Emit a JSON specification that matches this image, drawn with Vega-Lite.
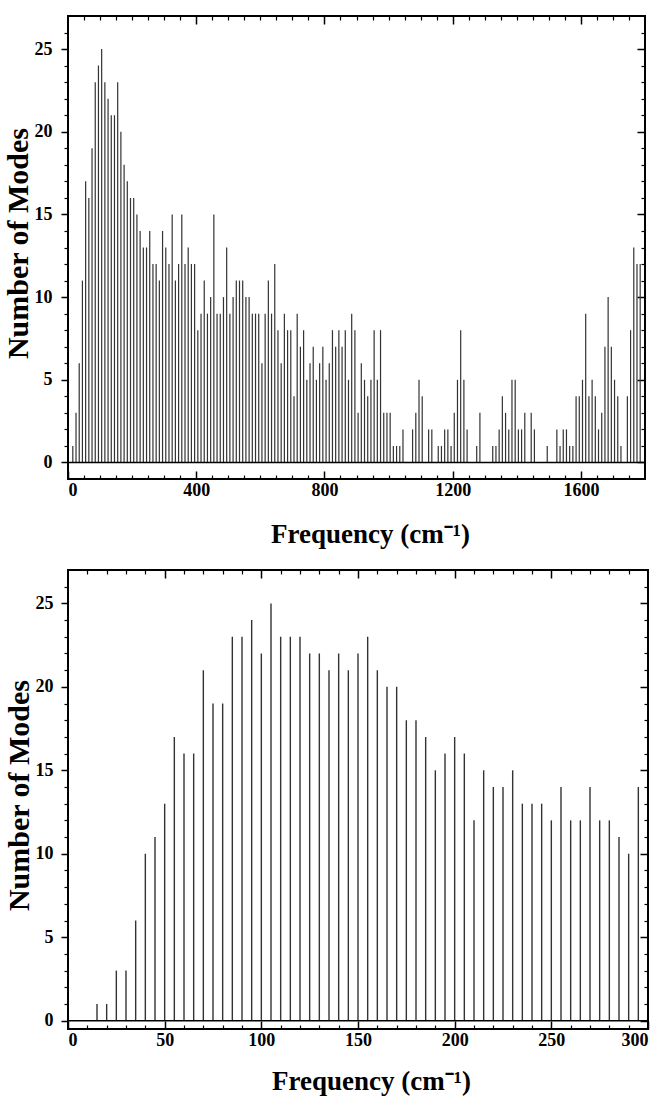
{
  "$schema": "https://vega.github.io/schema/vega-lite/v6.json",
  "padding": {"left": 2, "top": 14, "right": 2, "bottom": 2},
  "spacing": 20,
  "config": {
    "view": {"stroke": "#000", "strokeWidth": 2},
    "font": "Liberation Serif",
    "axis": {"labelFont": "Liberation Serif", "labelFontWeight": "bold", "labelFontSize": 18, "labelColor": "#000", "titleFont": "Liberation Serif", "titleFontWeight": "bold", "titleColor": "#000", "tickColor": "#000", "domain": false, "grid": false}
  },
  "datasets": {
    "full": [
      {"freq": 15, "n": 1}, {"freq": 25, "n": 3}, {"freq": 35, "n": 6}, {"freq": 45, "n": 11}, {"freq": 55, "n": 17}, {"freq": 65, "n": 16}, {"freq": 75, "n": 19}, {"freq": 85, "n": 23}, {"freq": 95, "n": 24}, {"freq": 105, "n": 25},
      {"freq": 115, "n": 23}, {"freq": 125, "n": 22}, {"freq": 135, "n": 21}, {"freq": 145, "n": 21}, {"freq": 155, "n": 23}, {"freq": 165, "n": 20}, {"freq": 175, "n": 18}, {"freq": 185, "n": 17}, {"freq": 195, "n": 16}, {"freq": 205, "n": 16},
      {"freq": 215, "n": 15}, {"freq": 225, "n": 14}, {"freq": 235, "n": 13}, {"freq": 245, "n": 13}, {"freq": 255, "n": 14}, {"freq": 265, "n": 12}, {"freq": 275, "n": 12}, {"freq": 285, "n": 11}, {"freq": 295, "n": 14}, {"freq": 305, "n": 13},
      {"freq": 315, "n": 12}, {"freq": 325, "n": 15}, {"freq": 335, "n": 11}, {"freq": 345, "n": 12}, {"freq": 355, "n": 15}, {"freq": 365, "n": 12}, {"freq": 375, "n": 13}, {"freq": 385, "n": 12}, {"freq": 395, "n": 12}, {"freq": 405, "n": 8},
      {"freq": 415, "n": 9}, {"freq": 425, "n": 11}, {"freq": 435, "n": 9}, {"freq": 445, "n": 10}, {"freq": 455, "n": 15}, {"freq": 465, "n": 9}, {"freq": 475, "n": 9}, {"freq": 485, "n": 10}, {"freq": 495, "n": 13}, {"freq": 505, "n": 9},
      {"freq": 515, "n": 10}, {"freq": 525, "n": 11}, {"freq": 535, "n": 11}, {"freq": 545, "n": 11}, {"freq": 555, "n": 10}, {"freq": 565, "n": 10}, {"freq": 575, "n": 9}, {"freq": 585, "n": 9}, {"freq": 595, "n": 9}, {"freq": 605, "n": 6},
      {"freq": 615, "n": 9}, {"freq": 625, "n": 11}, {"freq": 635, "n": 9}, {"freq": 645, "n": 12}, {"freq": 655, "n": 8}, {"freq": 665, "n": 6}, {"freq": 675, "n": 9}, {"freq": 685, "n": 8}, {"freq": 695, "n": 8}, {"freq": 705, "n": 4},
      {"freq": 715, "n": 9}, {"freq": 725, "n": 7}, {"freq": 735, "n": 8}, {"freq": 745, "n": 5}, {"freq": 755, "n": 6}, {"freq": 765, "n": 7}, {"freq": 775, "n": 5}, {"freq": 785, "n": 6}, {"freq": 795, "n": 7}, {"freq": 805, "n": 5},
      {"freq": 815, "n": 6}, {"freq": 825, "n": 8}, {"freq": 835, "n": 7}, {"freq": 845, "n": 8}, {"freq": 855, "n": 7}, {"freq": 865, "n": 8}, {"freq": 875, "n": 5}, {"freq": 885, "n": 9}, {"freq": 895, "n": 8}, {"freq": 905, "n": 3},
      {"freq": 915, "n": 6}, {"freq": 925, "n": 5}, {"freq": 935, "n": 4}, {"freq": 945, "n": 5}, {"freq": 955, "n": 8}, {"freq": 965, "n": 5}, {"freq": 975, "n": 8}, {"freq": 985, "n": 3}, {"freq": 995, "n": 3}, {"freq": 1005, "n": 3},
      {"freq": 1015, "n": 1}, {"freq": 1025, "n": 1}, {"freq": 1035, "n": 1}, {"freq": 1045, "n": 2}, {"freq": 1075, "n": 2}, {"freq": 1085, "n": 3}, {"freq": 1095, "n": 5}, {"freq": 1105, "n": 4}, {"freq": 1125, "n": 2}, {"freq": 1135, "n": 2},
      {"freq": 1155, "n": 1}, {"freq": 1165, "n": 1}, {"freq": 1175, "n": 2}, {"freq": 1185, "n": 2}, {"freq": 1195, "n": 1}, {"freq": 1205, "n": 3}, {"freq": 1215, "n": 5}, {"freq": 1225, "n": 8}, {"freq": 1235, "n": 5}, {"freq": 1245, "n": 2},
      {"freq": 1275, "n": 1}, {"freq": 1285, "n": 3}, {"freq": 1325, "n": 1}, {"freq": 1335, "n": 1}, {"freq": 1345, "n": 2}, {"freq": 1355, "n": 4}, {"freq": 1365, "n": 3}, {"freq": 1375, "n": 2}, {"freq": 1385, "n": 5}, {"freq": 1395, "n": 5},
      {"freq": 1405, "n": 2}, {"freq": 1415, "n": 2}, {"freq": 1425, "n": 3}, {"freq": 1445, "n": 3}, {"freq": 1455, "n": 2}, {"freq": 1495, "n": 1}, {"freq": 1525, "n": 2}, {"freq": 1535, "n": 1}, {"freq": 1545, "n": 2}, {"freq": 1555, "n": 2},
      {"freq": 1565, "n": 1}, {"freq": 1575, "n": 1}, {"freq": 1585, "n": 4}, {"freq": 1595, "n": 4}, {"freq": 1605, "n": 5}, {"freq": 1615, "n": 9}, {"freq": 1625, "n": 4}, {"freq": 1635, "n": 5}, {"freq": 1645, "n": 4}, {"freq": 1655, "n": 2},
      {"freq": 1665, "n": 3}, {"freq": 1675, "n": 7}, {"freq": 1685, "n": 10}, {"freq": 1695, "n": 7}, {"freq": 1705, "n": 5}, {"freq": 1715, "n": 4}, {"freq": 1725, "n": 1}, {"freq": 1745, "n": 4}, {"freq": 1755, "n": 8}, {"freq": 1765, "n": 13},
      {"freq": 1775, "n": 12}, {"freq": 1785, "n": 12}
    ],
    "low": [
      {"freq": 15, "n": 1}, {"freq": 20, "n": 1}, {"freq": 25, "n": 3}, {"freq": 30, "n": 3}, {"freq": 35, "n": 6}, {"freq": 40, "n": 10}, {"freq": 45, "n": 11}, {"freq": 50, "n": 13}, {"freq": 55, "n": 17}, {"freq": 60, "n": 16},
      {"freq": 65, "n": 16}, {"freq": 70, "n": 21}, {"freq": 75, "n": 19}, {"freq": 80, "n": 19}, {"freq": 85, "n": 23}, {"freq": 90, "n": 23}, {"freq": 95, "n": 24}, {"freq": 100, "n": 22}, {"freq": 105, "n": 25}, {"freq": 110, "n": 23},
      {"freq": 115, "n": 23}, {"freq": 120, "n": 23}, {"freq": 125, "n": 22}, {"freq": 130, "n": 22}, {"freq": 135, "n": 21}, {"freq": 140, "n": 22}, {"freq": 145, "n": 21}, {"freq": 150, "n": 22}, {"freq": 155, "n": 23}, {"freq": 160, "n": 21},
      {"freq": 165, "n": 20}, {"freq": 170, "n": 20}, {"freq": 175, "n": 18}, {"freq": 180, "n": 18}, {"freq": 185, "n": 17}, {"freq": 190, "n": 15}, {"freq": 195, "n": 16}, {"freq": 200, "n": 17}, {"freq": 205, "n": 16}, {"freq": 210, "n": 12},
      {"freq": 215, "n": 15}, {"freq": 220, "n": 14}, {"freq": 225, "n": 14}, {"freq": 230, "n": 15}, {"freq": 235, "n": 13}, {"freq": 240, "n": 13}, {"freq": 245, "n": 13}, {"freq": 250, "n": 12}, {"freq": 255, "n": 14}, {"freq": 260, "n": 12},
      {"freq": 265, "n": 12}, {"freq": 270, "n": 14}, {"freq": 275, "n": 12}, {"freq": 280, "n": 12}, {"freq": 285, "n": 11}, {"freq": 290, "n": 10}, {"freq": 295, "n": 14}
    ]
  },
  "vconcat": [
    {
      "width": 577,
      "height": 463,
      "layer": [
        {
          "data": {"name": "full"},
          "mark": {"type": "rule", "stroke": "#333", "strokeWidth": 1.2},
          "encoding": {
            "x": {"field": "freq", "type": "quantitative", "scale": {"domain": [0, 1800], "nice": false, "zero": false},
              "axis": {"orient": "bottom", "values": [0, 400, 800, 1200, 1600], "format": "d", "tickSize": -8, "tickWidth": 1.5, "labelPadding": 10, "labelFlush": true,
                "title": "Frequency (cm⁻¹)", "titleFontSize": 27, "titleX": 302, "titleY": 63, "titleAlign": "center", "titleBaseline": "alphabetic"}},
            "y": {"field": "n", "type": "quantitative", "scale": {"domain": [-1, 27], "nice": false, "zero": false},
              "axis": {"orient": "left", "values": [0, 5, 10, 15, 20, 25], "tickSize": 7, "tickWidth": 1.5, "labelPadding": 9,
                "title": "Number of Modes", "titleFontSize": 30, "titleX": -41, "titleY": 227, "titleAngle": 270, "titleAlign": "center", "titleBaseline": "alphabetic"}},
            "y2": {"datum": 0}
          }
        },
        {
          "data": {"name": "full"},
          "mark": {"type": "rule", "opacity": 0},
          "encoding": {
            "x": {"field": "freq", "type": "quantitative", "axis": {"orient": "bottom", "values": [50, 100, 150, 200, 250, 300, 350, 450, 500, 550, 600, 650, 700, 750, 850, 900, 950, 1000, 1050, 1100, 1150, 1250, 1300, 1350, 1400, 1450, 1500, 1550, 1650, 1700, 1750], "tickSize": -4, "tickWidth": 1.2, "labels": false, "title": null}},
            "y": {"field": "n", "type": "quantitative", "axis": {"orient": "left", "values": [1, 2, 3, 4, 6, 7, 8, 9, 11, 12, 13, 14, 16, 17, 18, 19, 21, 22, 23, 24, 26], "tickSize": 4, "tickWidth": 1.2, "labels": false, "title": null}}
          }
        },
        {
          "data": {"name": "full"},
          "mark": {"type": "rule", "opacity": 0},
          "encoding": {
            "x": {"field": "freq", "type": "quantitative", "axis": {"orient": "top", "values": [400, 800, 1200, 1600], "tickSize": -8, "tickWidth": 1.5, "labels": false, "title": null}},
            "y": {"field": "n", "type": "quantitative", "axis": {"orient": "right", "values": [0, 5, 10, 15, 20, 25], "tickSize": -8, "tickWidth": 1.5, "labels": false, "title": null}}
          }
        },
        {
          "data": {"name": "full"},
          "mark": {"type": "rule", "opacity": 0},
          "encoding": {
            "x": {"field": "freq", "type": "quantitative", "axis": {"orient": "top", "values": [50, 100, 150, 200, 250, 300, 350, 450, 500, 550, 600, 650, 700, 750, 850, 900, 950, 1000, 1050, 1100, 1150, 1250, 1300, 1350, 1400, 1450, 1500, 1550, 1650, 1700, 1750], "tickSize": -4, "tickWidth": 1.2, "labels": false, "title": null}},
            "y": {"field": "n", "type": "quantitative", "axis": {"orient": "right", "values": [1, 2, 3, 4, 6, 7, 8, 9, 11, 12, 13, 14, 16, 17, 18, 19, 21, 22, 23, 24, 26], "tickSize": -4, "tickWidth": 1.2, "labels": false, "title": null}}
          }
        },
        {
          "data": {"values": [{}]},
          "mark": {"type": "rule", "stroke": "#000", "strokeWidth": 1.5},
          "encoding": {"y": {"datum": 0, "axis": null}}
        }
      ],
      "resolve": {"axis": {"x": "independent", "y": "independent"}}
    },
    {
      "width": 580,
      "height": 459,
      "layer": [
        {
          "data": {"name": "low"},
          "mark": {"type": "rule", "stroke": "#333", "strokeWidth": 1.4},
          "encoding": {
            "x": {"field": "freq", "type": "quantitative", "scale": {"domain": [0, 300], "nice": false, "zero": false},
              "axis": {"orient": "bottom", "values": [0, 50, 100, 150, 200, 250, 300], "format": "d", "tickSize": -8, "tickWidth": 1.5, "labelPadding": 10,
                "title": "Frequency (cm⁻¹)", "titleFontSize": 27, "titleX": 303, "titleY": 60, "titleAlign": "center", "titleBaseline": "alphabetic"}},
            "y": {"field": "n", "type": "quantitative", "scale": {"domain": [-0.5, 27], "nice": false, "zero": false},
              "axis": {"orient": "left", "values": [0, 5, 10, 15, 20, 25], "tickSize": 7, "tickWidth": 1.5, "labelPadding": 8,
                "title": "Number of Modes", "titleFontSize": 30, "titleX": -40, "titleY": 225, "titleAngle": 270, "titleAlign": "center", "titleBaseline": "alphabetic"}},
            "y2": {"datum": 0}
          }
        },
        {
          "data": {"name": "low"},
          "mark": {"type": "rule", "opacity": 0},
          "encoding": {
            "x": {"field": "freq", "type": "quantitative", "axis": {"orient": "bottom", "values": [10, 20, 30, 40, 60, 70, 80, 90, 110, 120, 130, 140, 160, 170, 180, 190, 210, 220, 230, 240, 260, 270, 280, 290], "tickSize": -4, "tickWidth": 1.2, "labels": false, "title": null}},
            "y": {"field": "n", "type": "quantitative", "axis": {"orient": "left", "values": [1, 2, 3, 4, 6, 7, 8, 9, 11, 12, 13, 14, 16, 17, 18, 19, 21, 22, 23, 24, 26], "tickSize": 4, "tickWidth": 1.2, "labels": false, "title": null}}
          }
        },
        {
          "data": {"name": "low"},
          "mark": {"type": "rule", "opacity": 0},
          "encoding": {
            "x": {"field": "freq", "type": "quantitative", "axis": {"orient": "top", "values": [50, 100, 150, 200, 250], "tickSize": -8, "tickWidth": 1.5, "labels": false, "title": null}},
            "y": {"field": "n", "type": "quantitative", "axis": {"orient": "right", "values": [0, 5, 10, 15, 20, 25], "tickSize": -8, "tickWidth": 1.5, "labels": false, "title": null}}
          }
        },
        {
          "data": {"name": "low"},
          "mark": {"type": "rule", "opacity": 0},
          "encoding": {
            "x": {"field": "freq", "type": "quantitative", "axis": {"orient": "top", "values": [10, 20, 30, 40, 60, 70, 80, 90, 110, 120, 130, 140, 160, 170, 180, 190, 210, 220, 230, 240, 260, 270, 280, 290], "tickSize": -4, "tickWidth": 1.2, "labels": false, "title": null}},
            "y": {"field": "n", "type": "quantitative", "axis": {"orient": "right", "values": [1, 2, 3, 4, 6, 7, 8, 9, 11, 12, 13, 14, 16, 17, 18, 19, 21, 22, 23, 24, 26], "tickSize": -4, "tickWidth": 1.2, "labels": false, "title": null}}
          }
        },
        {
          "data": {"values": [{}]},
          "mark": {"type": "rule", "stroke": "#000", "strokeWidth": 1.5},
          "encoding": {"y": {"datum": 0, "axis": null}}
        }
      ],
      "resolve": {"axis": {"x": "independent", "y": "independent"}}
    }
  ]
}
